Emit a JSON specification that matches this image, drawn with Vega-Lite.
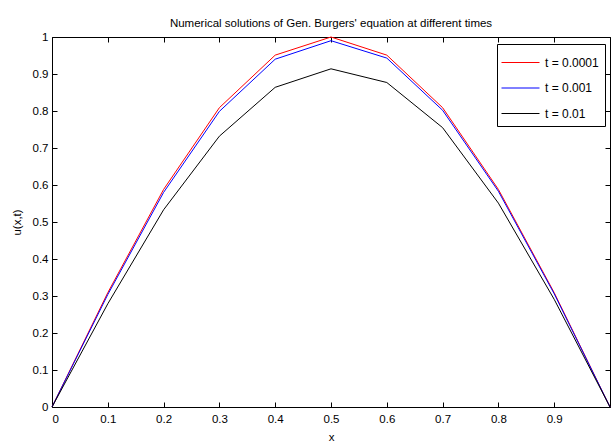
{
  "$schema": "https://vega.github.io/schema/vega-lite/v6.json",
  "width": 558,
  "height": 370,
  "autosize": "none",
  "padding": {"left": 52, "top": 37, "right": 1, "bottom": 40},
  "background": "white",
  "config": {
    "font": "Liberation Sans",
    "view": {"stroke": "black", "strokeWidth": 1},
    "axis": {"grid": false, "domain": false, "tickColor": "black", "labelColor": "black", "titleColor": "black", "labelFont": "Liberation Sans", "titleFont": "Liberation Sans", "labelFontSize": 11.5, "titleFontSize": 11.5, "titleFontWeight": "normal", "tickSize": 5, "offset": -5}
  },
  "title": {"text": "Numerical solutions of Gen. Burgers' equation at different times", "fontSize": 11.5, "fontWeight": "normal", "font": "Liberation Sans", "color": "black", "offset": 2},
  "data": {"values": [
    {"x": 0.0, "u": 0.0, "t": "t = 0.0001"},
    {"x": 0.1, "u": 0.309, "t": "t = 0.0001"},
    {"x": 0.2, "u": 0.588, "t": "t = 0.0001"},
    {"x": 0.3, "u": 0.809, "t": "t = 0.0001"},
    {"x": 0.4, "u": 0.951, "t": "t = 0.0001"},
    {"x": 0.5, "u": 1.0, "t": "t = 0.0001"},
    {"x": 0.6, "u": 0.951, "t": "t = 0.0001"},
    {"x": 0.7, "u": 0.809, "t": "t = 0.0001"},
    {"x": 0.8, "u": 0.588, "t": "t = 0.0001"},
    {"x": 0.9, "u": 0.309, "t": "t = 0.0001"},
    {"x": 1.0, "u": 0.0, "t": "t = 0.0001"},
    {"x": 0.0, "u": 0.0, "t": "t = 0.001"},
    {"x": 0.1, "u": 0.304, "t": "t = 0.001"},
    {"x": 0.2, "u": 0.580, "t": "t = 0.001"},
    {"x": 0.3, "u": 0.799, "t": "t = 0.001"},
    {"x": 0.4, "u": 0.940, "t": "t = 0.001"},
    {"x": 0.5, "u": 0.990, "t": "t = 0.001"},
    {"x": 0.6, "u": 0.943, "t": "t = 0.001"},
    {"x": 0.7, "u": 0.802, "t": "t = 0.001"},
    {"x": 0.8, "u": 0.583, "t": "t = 0.001"},
    {"x": 0.9, "u": 0.306, "t": "t = 0.001"},
    {"x": 1.0, "u": 0.0, "t": "t = 0.001"},
    {"x": 0.0, "u": 0.0, "t": "t = 0.01"},
    {"x": 0.1, "u": 0.279, "t": "t = 0.01"},
    {"x": 0.2, "u": 0.533, "t": "t = 0.01"},
    {"x": 0.3, "u": 0.732, "t": "t = 0.01"},
    {"x": 0.4, "u": 0.864, "t": "t = 0.01"},
    {"x": 0.5, "u": 0.914, "t": "t = 0.01"},
    {"x": 0.6, "u": 0.877, "t": "t = 0.01"},
    {"x": 0.7, "u": 0.755, "t": "t = 0.01"},
    {"x": 0.8, "u": 0.551, "t": "t = 0.01"},
    {"x": 0.9, "u": 0.291, "t": "t = 0.01"},
    {"x": 1.0, "u": 0.0, "t": "t = 0.01"}
  ]},
  "layer": [
    {
      "mark": {"type": "line", "strokeWidth": 1},
      "encoding": {
        "x": {"field": "x", "type": "quantitative", "scale": {"domain": [0, 1], "nice": false},
              "axis": {"orient": "bottom", "title": "x", "values": [0, 0.1, 0.2, 0.3, 0.4, 0.5, 0.6, 0.7, 0.8, 0.9, 1], "labelExpr": "datum.value > 0.95 ? '' : format(datum.value, '~g')", "labelPadding": 6, "titlePadding": 7}},
        "y": {"field": "u", "type": "quantitative", "scale": {"domain": [0, 1], "nice": false},
              "axis": {"orient": "left", "title": "u(x,t)", "values": [0, 0.1, 0.2, 0.3, 0.4, 0.5, 0.6, 0.7, 0.8, 0.9, 1], "labelExpr": "format(datum.value, '~g')", "labelPadding": 4, "titlePadding": 10}},
        "color": {"field": "t", "type": "nominal",
                  "scale": {"domain": ["t = 0.0001", "t = 0.001", "t = 0.01"], "range": ["#ff0000", "#0000ff", "#000000"]},
                  "legend": {"title": null, "orient": "none", "legendX": 445, "legendY": 7, "symbolType": "M-1.583,0H1.583", "symbolSize": 576, "symbolOffset": 5, "symbolStrokeWidth": 1, "labelFontSize": 12, "labelFont": "Liberation Sans", "labelColor": "black", "fillColor": "white", "strokeColor": "black", "padding": 6, "rowPadding": 6.5, "labelOffset": 12, "cornerRadius": 0}}
      }
    },
    {
      "mark": {"type": "line", "opacity": 0},
      "encoding": {
        "x": {"field": "x", "type": "quantitative", "axis": {"orient": "top", "title": null, "labels": false, "values": [0, 0.1, 0.2, 0.3, 0.4, 0.5, 0.6, 0.7, 0.8, 0.9, 1]}},
        "y": {"field": "u", "type": "quantitative", "axis": {"orient": "right", "title": null, "labels": false, "values": [0, 0.1, 0.2, 0.3, 0.4, 0.5, 0.6, 0.7, 0.8, 0.9, 1]}},
        "detail": {"field": "t"}
      }
    }
  ],
  "resolve": {"axis": {"x": "independent", "y": "independent"}}
}
